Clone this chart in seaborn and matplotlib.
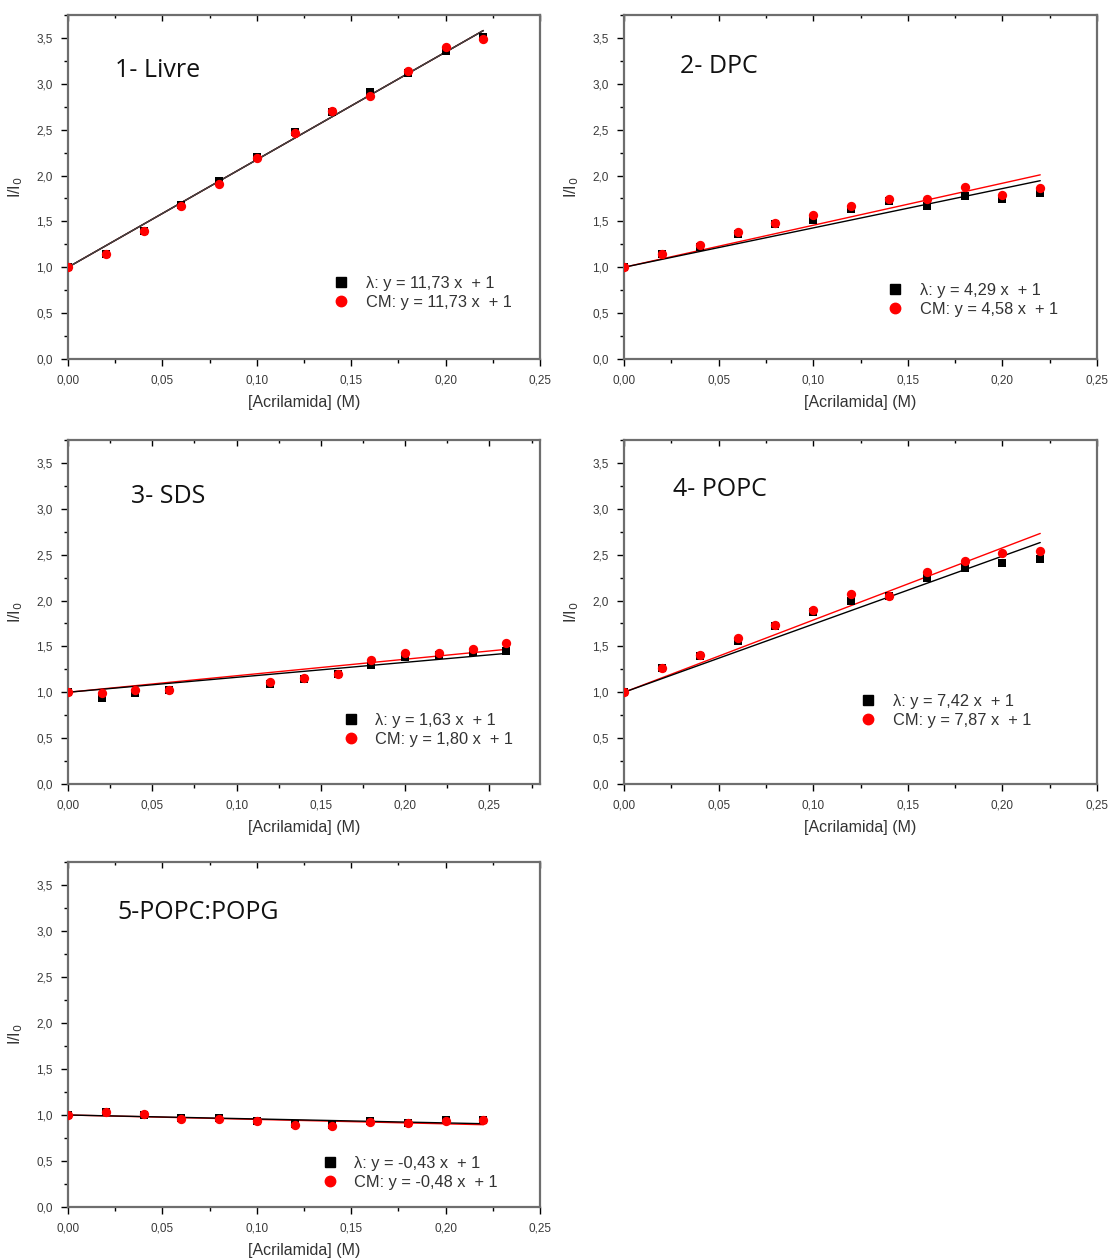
import numpy as np
import pandas as pd
import matplotlib
matplotlib.use("Agg")
import matplotlib.pyplot as plt
import seaborn as sns
from matplotlib.ticker import MultipleLocator, FuncFormatter
from matplotlib.lines import Line2D

sns.set_theme(style="white")
plt.rcParams['font.family'] = ['Liberation Sans', 'DejaVu Sans']

# ---------------- data ----------------
x_std = [0.00, 0.02, 0.04, 0.06, 0.08, 0.10, 0.12, 0.14, 0.16, 0.18, 0.20, 0.22]
x_sds = [0.00, 0.02, 0.04, 0.06, 0.12, 0.14, 0.16, 0.18, 0.20, 0.22, 0.24, 0.26]

titles = ["1- Livre", "2- DPC", "3- SDS", "4- POPC", "5-POPC:POPG"]

lam_livre = [1.00, 1.14, 1.39, 1.68, 1.94, 2.20, 2.47, 2.69, 2.91, 3.12, 3.36, 3.51]
cm_livre = [1.00, 1.14, 1.39, 1.67, 1.91, 2.19, 2.46, 2.70, 2.87, 3.14, 3.40, 3.49]

lam_dpc = [1.00, 1.14, 1.22, 1.36, 1.47, 1.52, 1.64, 1.72, 1.67, 1.78, 1.74, 1.81]
cm_dpc = [1.00, 1.15, 1.24, 1.38, 1.48, 1.57, 1.67, 1.74, 1.74, 1.88, 1.79, 1.86]

lam_sds = [1.00, 0.94, 0.99, 1.03, 1.09, 1.14, 1.20, 1.30, 1.38, 1.41, 1.44, 1.45]
cm_sds = [1.00, 0.99, 1.02, 1.02, 1.11, 1.16, 1.20, 1.35, 1.43, 1.43, 1.47, 1.54]

lam_popc = [1.00, 1.26, 1.40, 1.56, 1.72, 1.87, 1.99, 2.05, 2.25, 2.35, 2.41, 2.45]
cm_popc = [1.00, 1.26, 1.41, 1.59, 1.73, 1.90, 2.07, 2.05, 2.31, 2.43, 2.52, 2.54]

lam_pg = [1.00, 1.03, 1.00, 0.97, 0.97, 0.94, 0.90, 0.89, 0.94, 0.91, 0.95, 0.95]
cm_pg = [1.00, 1.03, 1.01, 0.96, 0.96, 0.93, 0.89, 0.88, 0.92, 0.91, 0.93, 0.95]

slope_lam = [11.73, 4.29, 1.63, 7.42, -0.43]
slope_cm = [11.73, 4.58, 1.80, 7.87, -0.48]
slope_lam_lbl = ["11,73", "4,29", "1,63", "7,42", "-0,43"]
slope_cm_lbl = ["11,73", "4,58", "1,80", "7,87", "-0,48"]

xs = [x_std, x_std, x_sds, x_std, x_std]
lams = [lam_livre, lam_dpc, lam_sds, lam_popc, lam_pg]
cms = [cm_livre, cm_dpc, cm_sds, cm_popc, cm_pg]
xmaxs = [0.25, 0.25, 0.28, 0.25, 0.25]

# ---------------- layout ----------------
W, H = 1109, 1259
fig = plt.figure(figsize=(W / 100, H / 100), dpi=100)

def rect(l, t, r, b):
    return [l / W, 1 - b / H, (r - l) / W, (b - t) / H]

rects = [rect(68, 15, 540, 359), rect(624, 15, 1097, 359),
         rect(68, 440, 540, 784), rect(624, 440, 1097, 784),
         rect(68, 862, 540, 1207)]
title_pos = [(0.10, 0.84), (0.118, 0.85), (0.133, 0.837), (0.104, 0.855), (0.104, 0.855)]
leg_pos = [(0.52, 0.105), (0.515, 0.085), (0.54, 0.07), (0.457, 0.125), (0.495, 0.012)]

comma = FuncFormatter(lambda v, p: f"{v:.2f}".replace(".", ","))
comma1 = FuncFormatter(lambda v, p: f"{v:.1f}".replace(".", ","))

spine_col = "#6e6e6e"
tick_lbl_col = "#3a3a3a"

for i in range(5):
    ax = fig.add_axes(rects[i])
    df = pd.DataFrame({"x": xs[i], "lam": lams[i], "cm": cms[i]})
    xmax_fit = max(xs[i])
    xf = np.array([0.0, xmax_fit])
    # fit lines
    ax.plot(xf, slope_cm[i] * xf + 1, color="red", lw=1.0, zorder=2)
    ax.plot(xf, slope_lam[i] * xf + 1, color="black", lw=1.0, zorder=2.5)
    if i == 0:
        ax.plot(xf, slope_cm[i] * xf + 1, color="#444444", lw=1.0, zorder=2.6)
    sns.scatterplot(data=df, x="x", y="lam", ax=ax, marker="s", color="black",
                    s=40, edgecolor="black", linewidth=0, zorder=3)
    sns.scatterplot(data=df, x="x", y="cm", ax=ax, marker="o", color="red",
                    s=45, edgecolor="red", linewidth=0, zorder=4)

    ax.set_xlim(0, xmaxs[i])
    ax.set_ylim(0, 3.75)
    ax.xaxis.set_major_locator(MultipleLocator(0.05))
    ax.xaxis.set_minor_locator(MultipleLocator(0.025))
    ax.yaxis.set_major_locator(MultipleLocator(0.5))
    ax.yaxis.set_minor_locator(MultipleLocator(0.25))
    ax.xaxis.set_major_formatter(comma)
    ax.yaxis.set_major_formatter(comma1)
    ax.tick_params(axis="both", which="major", direction="out", length=5, width=1,
                   color="black", labelsize=8.5, labelcolor=tick_lbl_col, pad=6)
    ax.tick_params(axis="both", which="minor", direction="out", length=3, width=1,
                   color="black")
    ax.tick_params(axis="y", which="both", left=True, right=False)
    # top ticks inward
    sec = ax.secondary_xaxis("top")
    sec.xaxis.set_major_locator(MultipleLocator(0.05))
    sec.xaxis.set_minor_locator(MultipleLocator(0.025))
    sec.tick_params(which="major", direction="in", length=4, width=1, labeltop=False, color="black")
    sec.tick_params(which="minor", direction="in", length=2.5, width=1, color="black")
    sec.spines["top"].set_visible(False)
    ax.tick_params(axis="x", which="both", top=False, bottom=True)

    for s in ax.spines.values():
        s.set_color(spine_col)
        s.set_linewidth(1.6)
        s.set_visible(True)

    ax.set_xlabel("[Acrilamida] (M)", fontsize=11.5, color="#333333", labelpad=6)
    ax.set_ylabel(r"I/I$_0$", fontsize=11.5, color="#333333", labelpad=8)

    ax.text(title_pos[i][0], title_pos[i][1], titles[i], transform=ax.transAxes,
            fontsize=18, family=["Open Sans", "DejaVu Sans"], color="#111111",
            ha="left", va="center")

    handles = [
        Line2D([], [], marker="s", color="black", linestyle="none", markersize=6.5),
        Line2D([], [], marker="o", color="red", linestyle="none", markersize=7.5),
    ]
    labels = [f"λ: y = {slope_lam_lbl[i]} x  + 1", f"CM: y = {slope_cm_lbl[i]} x  + 1"]
    ax.legend(handles, labels, loc="lower left", bbox_to_anchor=leg_pos[i],
              frameon=False, fontsize=11.8, handlelength=1.8, handletextpad=0.6,
              labelspacing=0.24, borderpad=0.3, labelcolor="#333333")

fig.savefig("out.png", dpi=100)
